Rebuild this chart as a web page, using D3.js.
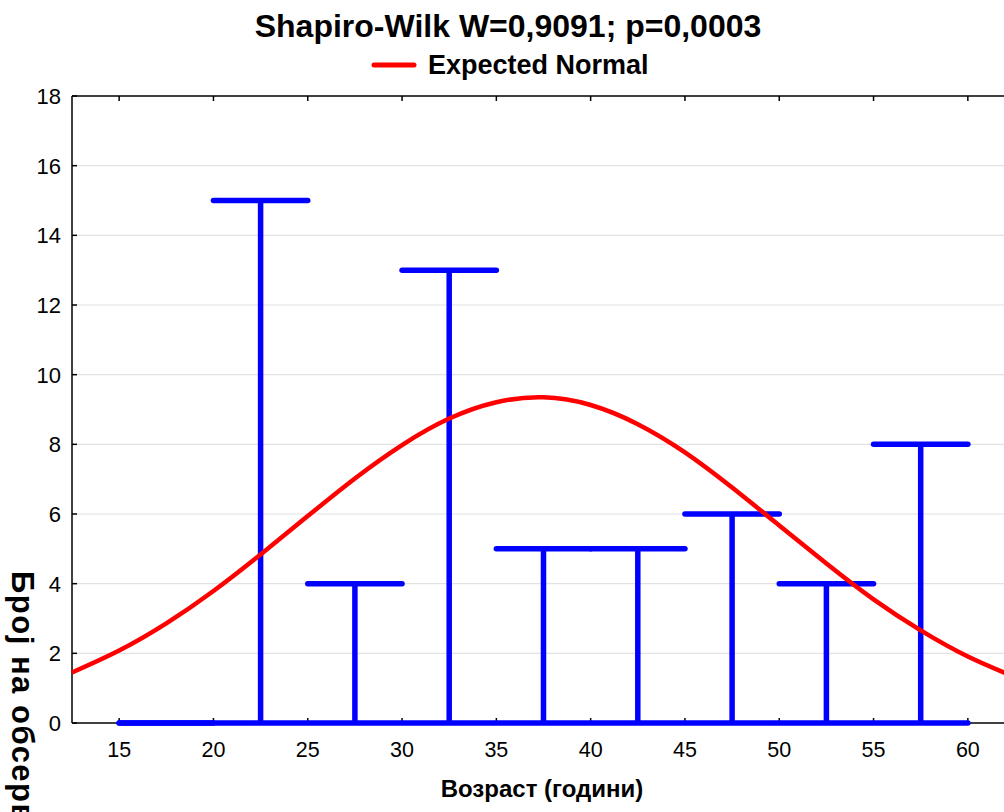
<!DOCTYPE html>
<html>
<head>
<meta charset="utf-8">
<script src="https://cdn.jsdelivr.net/npm/d3@7"></script>
<style>
  html, body { margin: 0; padding: 0; background: #fff; }
  svg { display: block; font-family: "Liberation Sans", Arial, Helvetica, sans-serif; }
</style>
</head>
<body>
<svg id="chart" width="1004" height="812"></svg>
<script>
// Histogram of ages: bin lower edges and counts (bin width 5 years)
const binStarts = [15, 20, 25, 30, 35, 40, 45, 50, 55];
const binCounts = [0, 15, 4, 13, 5, 5, 6, 4, 8];
const binWidth = 5;

// Expected normal curve, read at every 2.5 years
const normalX = [12.5, 15, 17.5, 20, 22.5, 25, 27.5, 30, 32.5, 35, 37.5, 40, 42.5, 45, 47.5, 50, 52.5, 55, 57.5, 60, 62.5];
const normalY = [1.45, 2.08, 2.86, 3.79, 4.84, 5.94, 7.02, 7.98, 8.74, 9.21, 9.35, 9.13, 8.58, 7.77, 6.76, 5.67, 4.58, 3.55, 2.66, 1.91, 1.32];

// Axis ticks
const xTicks = [15, 20, 25, 30, 35, 40, 45, 50, 55, 60];
const yTicks = [0, 2, 4, 6, 8, 10, 12, 14, 16, 18];

const titleText = "Shapiro-Wilk W=0,9091; p=0,0003";
const legendText = "Expected Normal";
const xTitle = "Возраст (години)";
const yTitle = "Број на обсервации";

const svg = d3.select("#chart");
const plotLeft = 72, plotRight = 1015, plotTop = 96, plotBottom = 723;
const x = d3.scaleLinear().domain([12.5, 62.5]).range([plotLeft, plotRight]);
const y = d3.scaleLinear().domain([0, 18]).range([plotBottom, plotTop]);

// Horizontal gridlines
svg.append("g").selectAll("line")
  .data(yTicks.filter(v => v > 0 && v < 18))
  .join("line")
  .attr("x1", plotLeft).attr("x2", plotRight)
  .attr("y1", d => y(d)).attr("y2", d => y(d))
  .attr("stroke", "#e2e2e2").attr("stroke-width", 1.2);

// Frame
const frame = svg.append("g").attr("stroke", "#000").attr("stroke-width", 1.5);
frame.append("line").attr("x1", plotLeft).attr("x2", plotLeft).attr("y1", plotTop).attr("y2", plotBottom);
frame.append("line").attr("x1", plotLeft).attr("x2", plotRight).attr("y1", plotTop).attr("y2", plotTop);
frame.append("line").attr("x1", plotLeft).attr("x2", plotRight).attr("y1", plotBottom).attr("y2", plotBottom);

// Inward tick marks
const tk = 5;
const ticks = svg.append("g").attr("stroke", "#000").attr("stroke-width", 1.5);
xTicks.forEach(v => {
  ticks.append("line").attr("x1", x(v)).attr("x2", x(v)).attr("y1", plotBottom).attr("y2", plotBottom - tk);
  ticks.append("line").attr("x1", x(v)).attr("x2", x(v)).attr("y1", plotTop).attr("y2", plotTop + tk);
});
yTicks.forEach(v => {
  ticks.append("line").attr("x1", plotLeft).attr("x2", plotLeft + tk).attr("y1", y(v)).attr("y2", y(v));
});

// Tick labels
svg.append("g").selectAll("text").data(xTicks).join("text")
  .attr("x", d => x(d)).attr("y", 757)
  .attr("text-anchor", "middle").attr("font-size", 21.5).attr("fill", "#000")
  .text(d => d);
svg.append("g").selectAll("text").data(yTicks).join("text")
  .attr("x", 61).attr("y", d => y(d)).attr("dy", "0.36em")
  .attr("text-anchor", "end").attr("font-size", 22).attr("fill", "#000")
  .text(d => d);

// Histogram drawn as baseline plus T-shaped bars
const bars = svg.append("g").attr("stroke", "#0000ff").attr("stroke-width", 5.5).attr("fill", "none");
bars.append("line")
  .attr("x1", x(binStarts[0])).attr("x2", x(binStarts[binStarts.length - 1] + binWidth))
  .attr("y1", y(0)).attr("y2", y(0))
  .attr("stroke-linecap", "round");
bars.selectAll("line.top").data(binStarts).join("line").attr("class", "top")
  .attr("x1", d => x(d)).attr("x2", d => x(d + binWidth))
  .attr("y1", (d, i) => y(binCounts[i])).attr("y2", (d, i) => y(binCounts[i]))
  .attr("stroke-linecap", "round");
bars.selectAll("line.stem").data(binStarts.filter((d, i) => binCounts[i] > 0)).join("line").attr("class", "stem")
  .attr("x1", d => x(d + binWidth / 2)).attr("x2", d => x(d + binWidth / 2))
  .attr("y1", d => y(binCounts[binStarts.indexOf(d)])).attr("y2", y(0));

// Expected normal curve
const line = d3.line()
  .x((d, i) => x(normalX[i]))
  .y(d => y(d))
  .curve(d3.curveNatural);
svg.append("path")
  .datum(normalY)
  .attr("d", line)
  .attr("fill", "none").attr("stroke", "#ff0000").attr("stroke-width", 4.5);

// Title and legend
svg.append("text").attr("x", 508).attr("y", 37)
  .attr("text-anchor", "middle").attr("font-size", 32).attr("font-weight", "bold")
  .text(titleText);
svg.append("line").attr("x1", 374).attr("x2", 414).attr("y1", 65).attr("y2", 65)
  .attr("stroke", "#ff0000").attr("stroke-width", 5).attr("stroke-linecap", "round");
svg.append("text").attr("x", 428).attr("y", 74)
  .attr("font-size", 27).attr("font-weight", "bold")
  .text(legendText);

// Axis titles
svg.append("text").attr("x", 542).attr("y", 797)
  .attr("text-anchor", "middle").attr("font-size", 24).attr("font-weight", "bold")
  .text(xTitle);
svg.append("text")
  .attr("transform", "translate(12,571) rotate(90)")
  .attr("font-size", 31).attr("font-weight", "bold")
  .attr("letter-spacing", 1.5)
  .text(yTitle);
</script>
</body>
</html>
